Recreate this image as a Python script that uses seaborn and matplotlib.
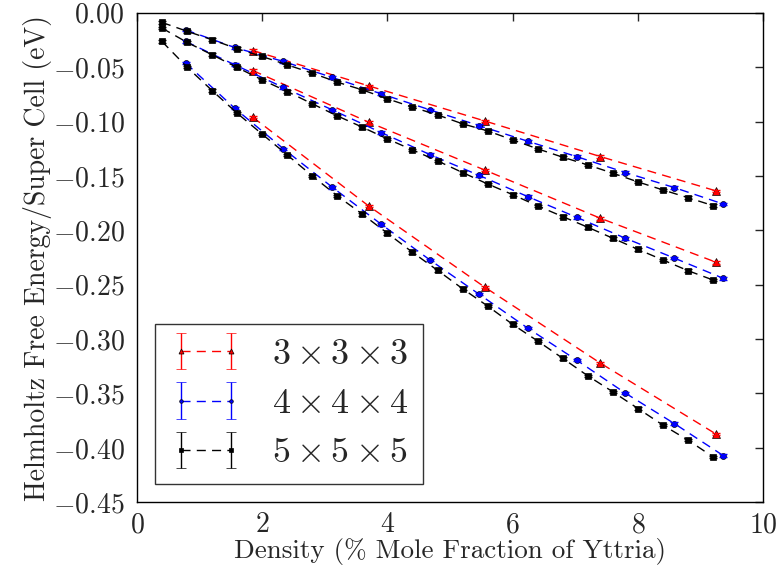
import matplotlib
matplotlib.use("Agg")
import matplotlib.pyplot as plt
import seaborn as sns
import numpy as np

# ---------------- data ----------------
x_333 = [1.85, 3.70, 5.55, 7.40, 9.25]
x_444 = [0.78, 1.56, 2.34, 3.12, 3.90, 4.68, 5.46, 6.24, 7.02, 7.80, 8.58, 9.36]
x_555 = [0.4, 0.8, 1.2, 1.6, 2.0, 2.4, 2.8, 3.2, 3.6, 4.0, 4.4, 4.8,
         5.2, 5.6, 6.0, 6.4, 6.8, 7.2, 7.6, 8.0, 8.4, 8.8, 9.2]

y_333_top = [-0.0347, -0.0672, -0.0994, -0.1322, -0.1638]
y_333_mid = [-0.0531, -0.1006, -0.1445, -0.1889, -0.2294]
y_333_bot = [-0.0960, -0.1776, -0.2521, -0.3221, -0.3874]

y_444_top = [-0.0158, -0.0319, -0.0448, -0.0595, -0.0745, -0.0893, -0.1037,
             -0.1181, -0.1322, -0.1469, -0.1607, -0.1758]
y_444_mid = [-0.0264, -0.0478, -0.0687, -0.0893, -0.1101, -0.1304, -0.1494,
             -0.1690, -0.1880, -0.2073, -0.2255, -0.2441]
y_444_bot = [-0.0463, -0.0877, -0.1251, -0.1604, -0.1944, -0.2273, -0.2586,
             -0.2899, -0.3193, -0.3497, -0.3776, -0.4070]

y_555_top = [-0.0089, -0.0170, -0.0248, -0.0331, -0.0402, -0.0479, -0.0555,
             -0.0638, -0.0709, -0.0791, -0.0868, -0.0939, -0.1021, -0.1086,
             -0.1169, -0.1251, -0.1328, -0.1399, -0.1475, -0.1555, -0.1629,
             -0.1700, -0.1773]
y_555_mid = [-0.0141, -0.0272, -0.0386, -0.0503, -0.0617, -0.0724, -0.0837,
             -0.0948, -0.1052, -0.1160, -0.1261, -0.1362, -0.1469, -0.1574,
             -0.1672, -0.1776, -0.1874, -0.1972, -0.2073, -0.2175, -0.2273,
             -0.2371, -0.2457]
y_555_bot = [-0.0264, -0.0500, -0.0715, -0.0923, -0.1116, -0.1307, -0.1500,
             -0.1684, -0.1852, -0.2027, -0.2202, -0.2368, -0.2537, -0.2696,
             -0.2865, -0.3018, -0.3177, -0.3338, -0.3485, -0.3638, -0.3791,
             -0.3929, -0.4083]

err_333 = 0.0012
err_444 = 0.0012
err_555 = 0.0012

labels = [r"$3\times3\times3$", r"$4\times4\times4$", r"$5\times5\times5$"]
x_ticks = [0, 2, 4, 6, 8, 10]
y_ticks = [0.00, -0.05, -0.10, -0.15, -0.20, -0.25, -0.30, -0.35, -0.40, -0.45]

# ---------------- style ----------------
sns.set_style("white")
plt.rcParams["font.family"] = ["cmr10", "DejaVu Serif"]
plt.rcParams["mathtext.fontset"] = "cm"
plt.rcParams["axes.formatter.use_mathtext"] = True
plt.rcParams["axes.unicode_minus"] = True

fig = plt.figure(figsize=(7.78, 5.80), dpi=100)
ax = fig.add_axes([0.176, 0.134, 0.805, 0.844])

series = [
    (x_333, [y_333_top, y_333_mid, y_333_bot], err_333, "red", "^", 6.0),
    (x_444, [y_444_top, y_444_mid, y_444_bot], err_444, "blue", "o", 4.3),
    (x_555, [y_555_top, y_555_mid, y_555_bot], err_555, "black", "s", 4.5),
]
dash = (0, (6.5, 4.5))

handles = []
for xs, groups, err, col, mk, ms in series:
    for ys in groups:
        sns.lineplot(x=xs, y=ys, ax=ax, color=col, marker=mk, markersize=ms,
                     markeredgecolor="k", markeredgewidth=0.5,
                     linestyle=dash, linewidth=1.0, estimator=None,
                     sort=False, legend=False)
        ax.errorbar(xs, ys, yerr=err, fmt="none", ecolor=col,
                    elinewidth=1.0, capsize=3, capthick=1.0)
    # legend proxy (NaN data -> not drawn on the axes)
    h = ax.errorbar([np.nan], [np.nan], yerr=[err], color=col, marker=mk,
                    markersize=ms, markeredgecolor="k", markeredgewidth=0.5,
                    linestyle=dash, linewidth=1.0, ecolor=col,
                    elinewidth=1.0, capsize=3.3, capthick=1.0)
    handles.append(h)

ax.set_xlim(0, 10)
ax.set_ylim(-0.45, 0.0)
ax.set_xticks(x_ticks)
ax.set_yticks(y_ticks)
ax.tick_params(direction="in", top=True, right=True, length=6, width=1,
               labelsize=20)
ax.tick_params(axis="y", pad=9)
ax.tick_params(axis="x", pad=7)
for sp in ax.spines.values():
    sp.set_linewidth(1.0)
    sp.set_color("black")

ax.set_xlabel("Density (% Mole Fraction of Yttria)", fontsize=19.5, labelpad=0)
ax.set_ylabel("Helmholtz Free Energy/Super Cell (eV)", fontsize=20, labelpad=0.5)

leg = ax.legend(handles, labels, loc="lower left", fontsize=26, numpoints=2,
                handlelength=2.0, handletextpad=0.83, labelspacing=0.47,
                borderaxespad=0.5, borderpad=0.41, markerscale=0.6,
                frameon=True, fancybox=False, edgecolor="black")
leg.get_frame().set_linewidth(1.0)

fig.savefig("out.png", dpi=100)
